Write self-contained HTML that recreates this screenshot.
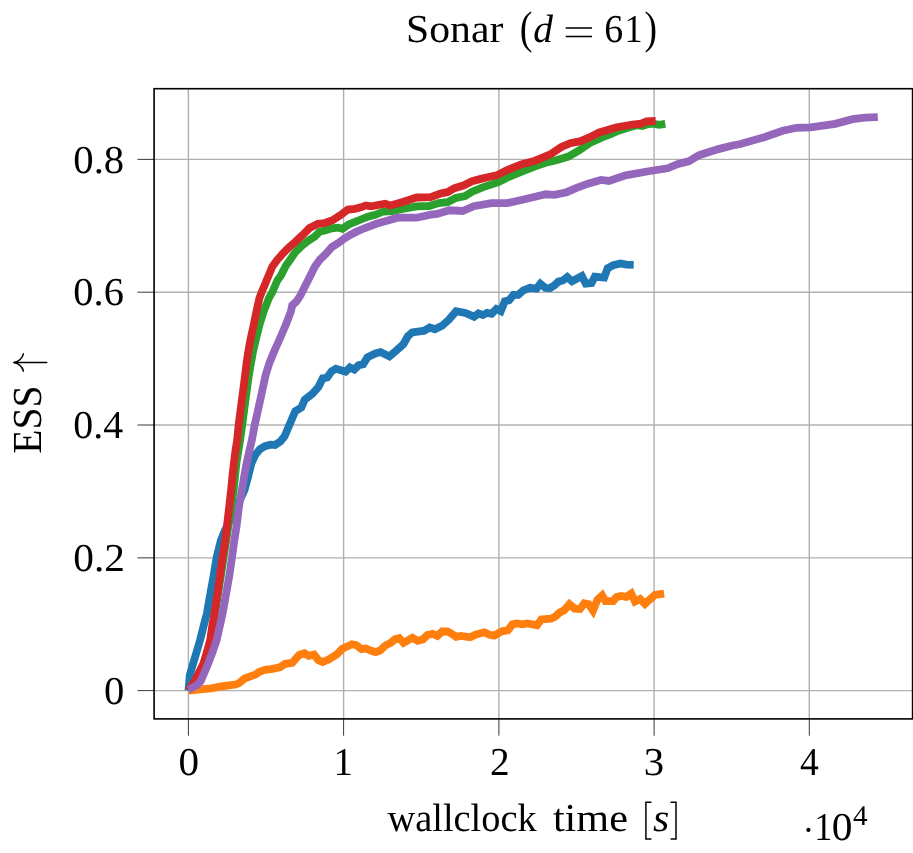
<!DOCTYPE html>
<html><head><meta charset="utf-8"><title>Sonar (d = 61)</title>
<style>
html,body{margin:0;padding:0;background:#fff;}
body{width:913px;height:853px;overflow:hidden;}
svg{display:block;will-change:transform;}
text{text-rendering:geometricPrecision;}
text{font-family:"Liberation Serif",serif;fill:#000;}
.it{font-style:italic;}
</style></head><body>
<svg width="913" height="853" viewBox="0 0 913 853">
<rect x="0" y="0" width="913" height="853" fill="#ffffff"/>

<g stroke="#b0b0b0" stroke-width="1.4" fill="none"><line x1="188.4" y1="88.7" x2="188.4" y2="718.9"/><line x1="343.6" y1="88.7" x2="343.6" y2="718.9"/><line x1="498.9" y1="88.7" x2="498.9" y2="718.9"/><line x1="654.1" y1="88.7" x2="654.1" y2="718.9"/><line x1="809.3" y1="88.7" x2="809.3" y2="718.9"/><line x1="154.1" y1="159.4" x2="912.6" y2="159.4"/><line x1="154.1" y1="292.2" x2="912.6" y2="292.2"/><line x1="154.1" y1="425.0" x2="912.6" y2="425.0"/><line x1="154.1" y1="557.85" x2="912.6" y2="557.85"/><line x1="154.1" y1="690.6" x2="912.6" y2="690.6"/></g>
<g stroke="#222" stroke-width="0.9" fill="none"><line x1="188.4" y1="718.9" x2="188.4" y2="735.6999999999999"/><line x1="343.6" y1="718.9" x2="343.6" y2="735.6999999999999"/><line x1="498.9" y1="718.9" x2="498.9" y2="735.6999999999999"/><line x1="654.1" y1="718.9" x2="654.1" y2="735.6999999999999"/><line x1="809.3" y1="718.9" x2="809.3" y2="735.6999999999999"/><line x1="154.1" y1="159.4" x2="137.5" y2="159.4"/><line x1="154.1" y1="292.2" x2="137.5" y2="292.2"/><line x1="154.1" y1="425.0" x2="137.5" y2="425.0"/><line x1="154.1" y1="557.85" x2="137.5" y2="557.85"/><line x1="154.1" y1="690.6" x2="137.5" y2="690.6"/></g>
<clipPath id="c"><rect x="154.1" y="88.7" width="758.5" height="630.1999999999999"/></clipPath>
<g clip-path="url(#c)">
<polyline points="188.5,690.6 189.8,675.2 193.2,663.4 196.7,651.7 200.1,640.0 203.8,625.2 206.9,613.4 208.9,601.7 211.0,590.0 213.7,575.2 216.6,557.6 221.0,540.0 224.7,531.0 232.0,516.0 239.0,502.0 244.5,490.0 248.5,475.2 251.4,463.4 255.4,454.7 260.1,449.1 265.0,446.2 270.4,444.7 275.0,445.0 280.3,441.5 284.5,436.5 288.3,427.4 291.7,419.5 295.3,411.2 301.3,407.6 304.7,399.8 312.3,393.8 318.4,387.1 322.8,378.3 327.2,377.5 331.5,371.3 335.9,368.7 345.6,371.7 349.9,367.5 354.3,369.6 358.7,365.2 363.1,364.3 367.5,357.3 375.4,353.5 380.6,352.1 389.4,356.4 394.6,352.1 403.4,344.2 407.8,336.3 412.2,332.4 424.4,330.7 429.7,327.5 434.9,329.3 442.0,325.8 449.0,319.6 456.1,311.2 465.3,312.9 474.1,316.7 478.5,313.4 482.9,315.1 487.2,312.9 491.6,313.8 496.4,309.0 500.8,311.2 504.8,301.3 509.1,300.2 513.5,294.8 518.3,294.8 523.4,290.4 530.0,287.8 536.5,288.6 540.3,283.8 545.3,287.8 549.7,288.2 554.1,285.6 558.4,281.6 562.8,280.5 567.3,277.1 572.0,281.3 581.8,276.1 585.8,283.6 591.5,283.0 594.8,276.6 604.2,277.6 607.6,268.2 613.2,265.3 620.5,263.5 626.3,264.6 633.7,264.8" fill="none" stroke="#1f77b4" stroke-width="7.8" stroke-linejoin="miter" stroke-miterlimit="10" stroke-linecap="butt"/>
<polyline points="188.6,690.5 202.5,689.2 211.3,688.3 220.1,686.7 228.8,685.4 235.8,684.5 239.3,683.0 244.6,678.5 249.0,676.9 255.1,674.7 259.5,671.8 265.0,669.9 271.1,669.1 279.9,667.3 285.2,663.8 292.2,662.9 299.2,655.0 304.4,653.3 308.8,655.9 314.0,654.7 318.5,660.3 322.8,662.1 329.0,659.4 337.0,654.3 342.3,648.7 351.9,644.3 356.3,645.2 361.5,649.1 365.9,648.5 371.2,650.8 375.6,652.1 380.0,650.5 385.2,645.6 390.5,642.9 394.8,639.4 399.2,638.2 403.6,642.9 412.4,637.7 417.6,640.8 422.9,639.4 427.3,635.1 432.5,633.8 437.3,635.9 442.2,631.5 447.4,631.5 450.9,633.3 456.2,636.8 460.6,635.9 470.2,637.3 475.5,634.7 484.2,632.3 489.6,634.8 494.0,635.7 501.9,631.3 508.0,630.1 512.4,624.3 516.8,623.5 522.1,624.3 527.3,623.5 537.0,625.2 541.3,619.4 551.0,618.7 555.4,616.4 559.7,612.6 564.1,610.3 569.4,604.2 574.6,608.6 579.9,608.9 584.3,603.3 588.7,604.2 593.0,610.6 597.4,599.8 602.2,595.4 605.5,601.1 613.1,601.1 616.4,597.2 620.8,595.9 626.3,596.9 631.2,593.5 635.0,601.4 640.0,598.9 644.9,603.8 654.8,595.0 664.1,593.7" fill="none" stroke="#ff7f0e" stroke-width="7.8" stroke-linejoin="miter" stroke-miterlimit="10" stroke-linecap="butt"/>
<polyline points="188.4,690.4 195.2,681.0 198.2,675.2 204.0,663.4 207.6,651.7 210.7,640.0 213.0,625.2 215.0,613.4 216.9,601.7 218.6,590.0 221.0,575.2 223.5,557.6 226.3,540.0 228.5,525.2 231.0,507.6 233.7,490.0 235.1,475.2 236.4,463.4 238.2,451.7 240.1,440.0 242.2,425.2 244.5,407.6 246.8,390.0 248.9,375.2 250.9,363.4 253.0,351.7 255.7,340.0 259.6,324.4 263.7,311.3 268.9,298.1 272.4,292.0 275.4,285.0 277.2,280.6 281.1,275.2 285.7,266.0 291.0,258.4 295.0,252.5 301.1,246.4 308.0,241.0 314.9,236.4 319.5,231.8 325.7,230.3 331.8,228.3 337.9,227.6 342.5,228.7 348.7,224.5 356.3,221.4 360.9,219.5 367.6,216.8 374.6,215.0 383.4,211.5 392.2,211.2 402.7,208.9 416.7,206.3 429.0,206.0 438.8,203.1 447.5,202.2 456.3,197.8 465.1,196.1 472.1,191.7 482.6,187.3 498.3,182.1 507.1,177.7 522.9,171.2 535.2,166.3 545.7,162.8 556.2,160.2 568.4,156.6 579.0,150.5 590.5,142.6 602.8,137.2 610.0,134.4 617.7,130.9 625.3,128.6 633.0,126.3 636.8,125.2 642.2,126.1 648.3,124.1 652.9,123.7 659.1,124.8 665.3,123.8" fill="none" stroke="#2ca02c" stroke-width="7.8" stroke-linejoin="miter" stroke-miterlimit="10" stroke-linecap="butt"/>
<polyline points="188.4,690.4 194.8,681.0 197.7,675.2 203.5,663.4 207.0,651.7 210.2,640.0 212.4,625.2 214.5,613.4 216.2,601.7 218.0,590.0 220.0,575.2 222.4,557.6 225.3,540.0 227.1,525.2 229.1,507.6 231.1,490.0 232.5,475.2 233.9,463.4 235.3,451.7 237.2,440.0 238.6,425.2 240.9,407.6 243.2,390.0 245.1,375.2 246.5,363.4 248.3,351.7 250.4,340.0 253.8,324.4 256.5,311.3 259.4,298.1 261.9,291.6 264.5,285.4 267.3,278.8 272.2,266.8 277.2,259.9 283.4,253.0 288.7,247.6 295.0,242.2 302.7,234.9 309.6,228.0 318.0,223.8 324.9,223.0 332.6,220.3 340.2,215.3 347.9,209.6 354.8,208.8 360.9,207.3 365.9,205.4 371.1,206.3 385.2,203.7 390.4,205.4 402.7,201.9 416.7,197.5 430.7,197.2 440.5,193.5 447.5,192.2 454.5,188.2 463.3,185.6 472.1,181.2 480.8,178.9 489.6,176.8 496.6,175.4 507.1,170.1 521.1,164.5 535.2,160.7 550.9,154.0 561.4,147.0 570.2,143.2 580.7,141.2 588.8,137.7 599.3,132.4 616.8,127.2 632.6,124.5 641.3,123.7 646.6,121.4 655.7,121.0" fill="none" stroke="#d62728" stroke-width="7.8" stroke-linejoin="miter" stroke-miterlimit="10" stroke-linecap="butt"/>
<polyline points="188.4,689.6 192.3,687.6 197.0,685.1 200.8,681.0 203.3,675.2 208.3,663.4 212.7,651.7 216.7,640.0 220.0,625.2 222.6,613.4 224.7,601.7 226.8,590.0 229.4,575.2 231.9,557.6 234.4,540.0 236.7,525.2 238.8,507.6 241.9,490.0 244.4,475.2 246.6,463.4 249.2,451.7 251.9,440.0 254.6,425.2 258.6,407.6 262.4,390.0 265.6,375.2 269.3,363.4 274.0,351.7 279.3,340.0 286.0,324.4 290.9,311.3 292.2,305.4 296.5,301.4 300.5,295.3 308.7,279.1 314.8,266.8 319.5,260.0 325.7,254.0 331.8,247.1 337.9,243.3 344.1,238.7 350.2,234.9 357.1,231.4 365.0,228.0 376.4,223.8 388.7,220.3 397.4,217.7 416.7,217.7 430.7,214.7 437.0,214.0 449.3,210.3 462.5,211.0 473.8,206.2 491.3,203.1 507.1,203.1 524.6,199.2 545.7,194.3 554.4,194.9 566.7,192.2 577.2,187.7 588.8,183.4 601.0,179.9 608.9,180.9 625.6,175.4 650.1,171.0 667.6,168.3 678.1,164.0 688.7,161.3 699.2,155.2 718.4,149.1 732.5,145.5 740.5,144.0 765.0,137.0 782.6,130.8 796.6,127.8 810.6,127.3 835.2,123.8 852.7,119.2 865.0,117.6 877.8,117.1" fill="none" stroke="#9467bd" stroke-width="7.8" stroke-linejoin="miter" stroke-miterlimit="10" stroke-linecap="butt"/>
</g>
<rect x="154.1" y="88.7" width="758.5" height="630.1999999999999" fill="none" stroke="#000" stroke-width="1.6"/>
<text transform="translate(405.97,42.10) scale(1.0560,1.0)" font-size="39.5">Sonar</text>
<text transform="translate(519.72,43.30) scale(0.9644,1.16)" font-size="39.5">(</text>
<text class="it" transform="translate(533.20,42.10) scale(0.9985,1.0)" font-size="39.5">d</text>
<text transform="translate(604.35,42.10) scale(0.9578,1.0)" font-size="39.5">6</text>
<text transform="translate(624.59,42.10) scale(0.9174,1.0)" font-size="39.5">1</text>
<text transform="translate(644.53,43.30) scale(0.9535,1.16)" font-size="39.5">)</text>
<text transform="translate(387.55,830.60) scale(0.9712,1.0)" font-size="39.5">wallclock</text>
<text transform="translate(552.88,830.60) scale(1.0680,1.0)" font-size="39.5">time</text>
<text class="it" transform="translate(653.03,830.60) scale(1.0607,1.0)" font-size="39.5">s</text>
<text transform="translate(814.19,840.10) scale(0.9174,1.0)" font-size="39.5">1</text>
<text transform="translate(831.80,840.10) scale(1.0474,1.0)" font-size="39.5">0</text>
<text transform="translate(852.99,825.30) scale(1.0194,1.0)" font-size="28.6">4</text>
<text transform="translate(73.33,172.60) scale(1.0296,1.0)" font-size="39.5">0.8</text>
<text transform="translate(73.33,305.40) scale(1.0238,1.0)" font-size="39.5">0.6</text>
<text transform="translate(73.36,438.20) scale(1.0087,1.0)" font-size="39.5">0.4</text>
<text transform="translate(73.30,571.05) scale(1.0459,1.0)" font-size="39.5">0.2</text>
<text transform="translate(104.03,703.80) scale(1.0295,1.0)" font-size="39.5">0</text>
<text transform="translate(178.41,775.30) scale(1.0414,1.0)" font-size="39.5">0</text>
<text transform="translate(333.57,775.30) scale(0.9819,1.0)" font-size="39.5">1</text>
<text transform="translate(489.98,775.30) scale(0.9931,1.0)" font-size="39.5">2</text>
<text transform="translate(643.79,775.30) scale(1.0339,1.0)" font-size="39.5">3</text>
<text transform="translate(799.97,775.30) scale(0.9508,1.0)" font-size="39.5">4</text>
<g stroke="#000" stroke-width="1.55"><line x1="565.7" y1="28.0" x2="592" y2="28.0"/><line x1="565.7" y1="36.5" x2="592" y2="36.5"/></g>
<g stroke="#000" stroke-width="1.5" fill="none" stroke-linejoin="miter"><path d="M651.4,802.3 H645.9 V839.0 H651.4"/><path d="M670.6,802.3 H676.0 V839.0 H670.6"/></g>
<circle cx="808.4" cy="829.9" r="2.1" fill="#000"/>
<text transform="translate(41.4,453.7) rotate(-90) scale(1,1.045)" x="0" y="0" font-size="39.5">ESS</text>
<g stroke="#000" stroke-width="1.55" fill="none" stroke-linecap="round" stroke-linejoin="round"><line x1="14.4" y1="362.5" x2="46.7" y2="362.5"/><path d="M23.4,353.9 C22.2,358.4 18.6,361.5 13.9,362.5 C18.6,363.5 22.2,366.6 23.4,371.1"/></g>
</svg></body></html>
